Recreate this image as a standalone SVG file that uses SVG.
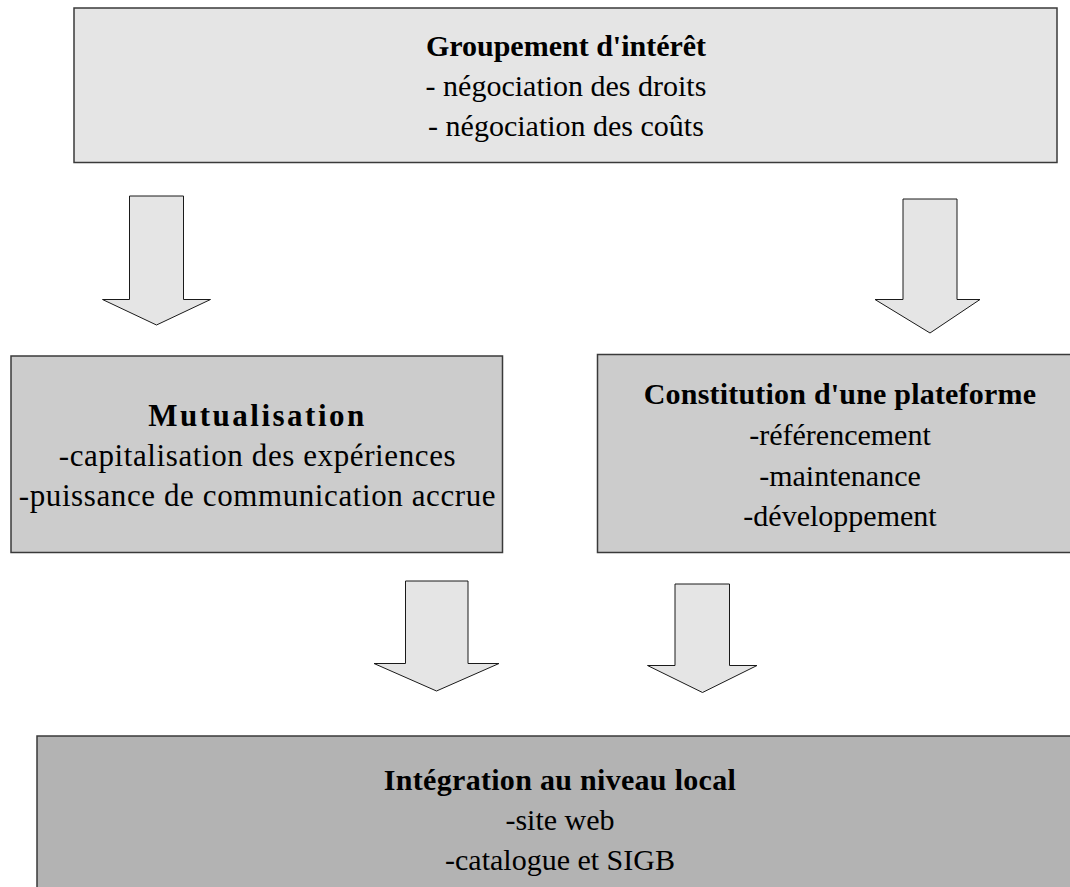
<svg xmlns="http://www.w3.org/2000/svg" width="1070" height="887" viewBox="0 0 1070 887">
<style>
.box{stroke:#3a3a3a;stroke-width:1.5}
.arrow{fill:#e5e5e5;stroke:#1a1a1a;stroke-width:1;stroke-linejoin:miter}
text{font-family:"Liberation Serif","Times New Roman",serif;font-size:30px;fill:#000;text-anchor:middle}
.t{font-weight:bold}
.m{font-size:31px;letter-spacing:0.6px}
.mt{font-size:31px;letter-spacing:2.5px}
</style>
<rect width="1070" height="887" fill="#ffffff"/>
<g id="connectors">
<polygon class="arrow" points="129.5,196 183.5,196 183.5,299.5 210.5,299.5 156.5,325 102.5,299.5 129.5,299.5"/>
<polygon class="arrow" points="903,199 957,199 957,299.5 980,299.5 930,333 875,299.5 903,299.5"/>
<polygon class="arrow" points="405.5,581 468,581 468,663.5 499,663.5 436.5,691 374,663.5 405.5,663.5"/>
<polygon class="arrow" points="675,584 729.5,584 729.5,665.5 757,665.5 702.5,692.5 647.5,665.5 675,665.5"/>
</g>
<g id="node-groupement">
<rect class="box" x="74" y="8" width="983" height="154.5" fill="#e5e5e5" stroke="#777"/>
<text class="t" x="566" y="56">Groupement d'intérêt</text>
<text x="566" y="96">- négociation des droits</text>
<text x="566" y="136">- négociation des coûts</text>
</g>
<g id="node-mutualisation">
<rect class="box" x="11" y="356" width="491.5" height="196.5" fill="#cccccc"/>
<text class="t mt" x="257.5" y="426">Mutualisation</text>
<text class="m" x="257.5" y="466">-capitalisation des expériences</text>
<text class="m" x="257.5" y="506">-puissance de communication accrue</text>
</g>
<g id="node-plateforme">
<rect class="box" x="597.5" y="354.5" width="490" height="198" fill="#cccccc"/>
<text class="t" x="840" y="404" letter-spacing="0.2">Constitution d'une plateforme</text>
<text x="840" y="445">-référencement</text>
<text x="840" y="486">-maintenance</text>
<text x="840" y="526">-développement</text>
</g>
<g id="node-integration">
<rect class="box" x="37" y="736" width="1050" height="170" fill="#b3b3b3"/>
<text class="t" x="560" y="790" letter-spacing="0.3">Intégration au niveau local</text>
<text x="560" y="830">-site web</text>
<text x="560" y="870">-catalogue et SIGB</text>
</g>
</svg>
